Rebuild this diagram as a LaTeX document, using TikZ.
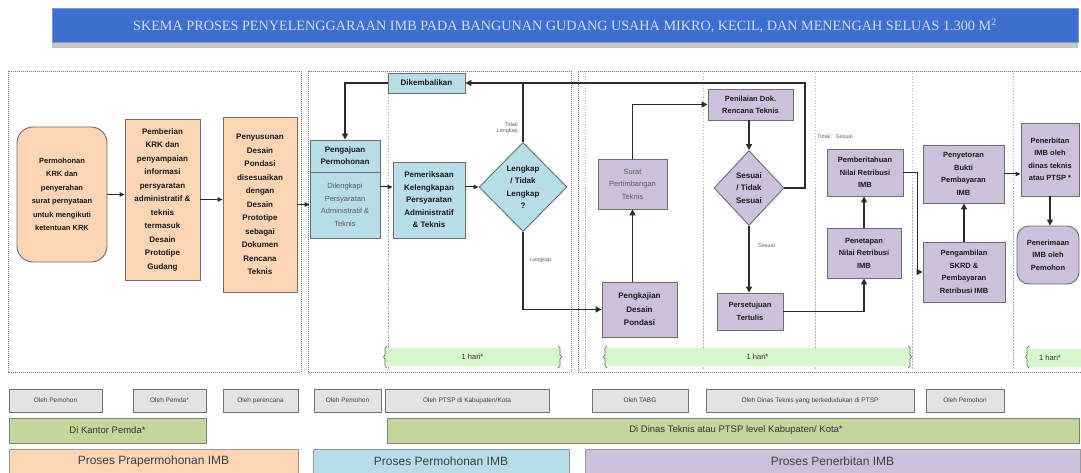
\documentclass[tikz,border=0pt]{standalone}
\usepackage{fontspec}
\setmainfont{Liberation Sans}
\newfontfamily\titlefont{Liberation Serif}
\usetikzlibrary{shapes.geometric,arrows.meta,calc}
\definecolor{cOr}{HTML}{FCD5B4}
\definecolor{cBl}{HTML}{B7DDE8}
\definecolor{cPu}{HTML}{CCC0DA}
\definecolor{cOl}{HTML}{C3D69B}
\definecolor{cMint}{HTML}{D6F7CC}
\definecolor{cGr}{HTML}{E3E3E3}
\definecolor{cTitle}{HTML}{3D6FD0}
\definecolor{cTitleTxt}{HTML}{D0DDF3}
\definecolor{cEdge}{HTML}{6E6E6E}
\definecolor{cLine}{HTML}{2B2B2B}
\begin{document}
\begin{tikzpicture}[x=1pt,y=-1pt,
  box/.style={draw=cEdge,line width=0.9pt,align=center,inner sep=1pt,text=black!90,
    font=\bfseries\fontsize{8}{13.5}\selectfont},
  lbox/.style={box,font=\fontsize{8}{13.5}\selectfont,text=black!65},
  obox/.style={box,fill=cOr},
  bbox/.style={box,fill=cBl},
  pbox/.style={box,fill=cPu},
  dia/.style={box,diamond,aspect=1,inner sep=0pt,font=\bfseries\fontsize{8}{12.5}\selectfont},
  arr/.style={draw=cLine,line width=1.6pt,-{Triangle[length=6pt,width=6pt]}},
  thinarr/.style={draw=cLine,line width=1pt,-{Triangle[length=5pt,width=4.5pt]}},
  ln/.style={draw=cLine,line width=1.6pt},
  panel/.style={draw=black!55,line width=0.9pt,dash pattern=on 1pt off 1pt},
  lane/.style={draw=black!30,line width=0.7pt,dash pattern=on 1.5pt off 1.5pt},
  tiny/.style={font=\fontsize{5.5}{6.5}\selectfont,text=black!60,align=right,inner sep=0pt},
  olehbox/.style={draw=black!55,fill=cGr,line width=0.9pt,inner sep=0pt,minimum height=23pt,
    font=\fontsize{6.5}{7}\selectfont,text=black!75},
  greenrow/.style={draw=black!50,fill=cOl,line width=0.8pt,inner sep=0pt,minimum height=25pt,
    font=\fontsize{9.5}{10}\selectfont,text=black!80},
  procrow/.style={draw=black!40,line width=0.8pt,inner sep=0pt,minimum height=24pt,
    font=\fontsize{12}{13}\selectfont,text=black!75},
  hari/.style={fill=cMint,draw=none,inner sep=0pt,minimum height=18pt,
    font=\fontsize{7.5}{8}\selectfont,text=black!80}
]
\useasboundingbox (0,0) rectangle (1081,473);
\fill[white] (0,0) rectangle (1081,473);

% title bar
\fill[black!22] (52,43) rectangle (1078,48);
\node[fill=cTitle,draw=cTitle!70!white,line width=1pt,minimum width=1026pt,minimum height=34pt,inner sep=0pt,
  font=\titlefont\fontsize{14.2}{15}\selectfont,text=cTitleTxt] (title) at (565,26)
  {SKEMA PROSES PENYELENGGARAAN IMB PADA BANGUNAN GUDANG USAHA MIKRO, KECIL, DAN MENENGAH SELUAS 1.300 M\textsuperscript{2}};

% panels
\draw[panel] (8,71) rectangle (301,372);
\draw[panel] (308,71) rectangle (571,372);
\draw[panel] (1081,71) -- (578,71) -- (578,372) -- (1081,372);
\foreach \xx in {388,585,703,815,912,1013} \draw[lane] (\xx,73) -- (\xx,370);

% 1 hari bars
\node[hari,minimum width=175pt] (h1) at (472.5,357) {1 hari*};
\node[hari,minimum width=305pt] (h2) at (757.5,357) {1 hari*};
\node[hari,minimum width=54pt] (h3) at (1054,358) {\hspace*{-8pt}1 hari*};
\foreach \xx/\s in {385/1,560/-1,605/1,910/-1,1027/1}
  \draw[black!60,line width=0.7pt] (\xx+2*\s,346) -- (\xx,348) -- (\xx,355) -- (\xx-1.5*\s,357) -- (\xx,359) -- (\xx,366) -- (\xx+2*\s,368);

% panel 1 nodes
\node[obox,rounded corners=16pt,minimum width=90pt,minimum height=135pt,font=\bfseries\fontsize{7.5}{13.5}\selectfont] (n1) at (62,194.5)
  {Permohonan\\KRK dan\\penyerahan\\surat pernyataan\\untuk mengikuti\\ketentuan KRK};
\node[obox,minimum width=75pt,minimum height=161pt] (n2) at (162.5,199.5)
  {Pemberian\\KRK dan\\penyampaian\\informasi\\persyaratan\\administratif \&\\teknis\\termasuk\\Desain\\Prototipe\\Gudang};
\node[obox,minimum width=74pt,minimum height=175pt] (n3) at (260,204.5)
  {Penyusunan\\Desain\\Pondasi\\disesuaikan\\dengan\\Desain\\Prototipe\\sebagai\\Dokumen\\Rencana\\Teknis};

% panel 2 nodes
\node[bbox,minimum width=77pt,minimum height=20pt] (dik) at (426.5,83) {Dikembalikan};
\node[bbox,minimum width=70pt,minimum height=32pt,font=\bfseries\fontsize{8}{12}\selectfont] (ph) at (345,156) {Pengajuan\\Permohonan};
\node[bbox,lbox,fill=cBl,minimum width=70pt,minimum height=66pt,font=\fontsize{7.5}{12.5}\selectfont] (pl) at (345,205)
  {Dilengkapi\\Persyaratan\\Administratif \&\\Teknis};
\node[bbox,minimum width=72pt,minimum height=76pt,font=\bfseries\fontsize{8}{12.5}\selectfont] (pem) at (429,200)
  {Pemeriksaan\\Kelengkapan\\Persyaratan\\Administratif\\\& Teknis};
\node[dia,fill=cBl,minimum width=88pt,minimum height=89pt] (d1) at (523,187) {Lengkap\\/ Tidak\\Lengkap\\?};

% panel 3 nodes
\node[pbox,lbox,fill=cPu,minimum width=69pt,minimum height=50pt,font=\fontsize{7.5}{12.5}\selectfont] (sp) at (632.5,184)
  {Surat\\Pertimbangan\\Teknis};
\node[pbox,minimum width=75pt,minimum height=55pt] (pk) at (639.5,309.5) {Pengkajian\\Desain\\Pondasi};
\node[pbox,minimum width=85pt,minimum height=31pt,font=\bfseries\fontsize{7.5}{12}\selectfont] (pen) at (750.5,104.5)
  {Penilaian Dok.\\Rencana Teknis};
\node[dia,fill=cPu,minimum width=70pt,minimum height=75pt] (s2) at (749,188) {Sesuai\\/ Tidak\\Sesuai};
\node[pbox,minimum width=66pt,minimum height=37pt,font=\bfseries\fontsize{7.5}{12.5}\selectfont] (pt) at (750,311.5)
  {Persetujuan\\Tertulis};
\node[pbox,minimum width=76pt,minimum height=47pt,font=\bfseries\fontsize{7.5}{12.5}\selectfont] (pbr) at (865,172.5)
  {Pemberitahuan\\Nilai Retribusi\\IMB};
\node[pbox,minimum width=74pt,minimum height=50pt,font=\bfseries\fontsize{7.5}{12.5}\selectfont] (pnt) at (864,253)
  {Penetapan\\Nilai Retribusi\\IMB};
\node[pbox,minimum width=81pt,minimum height=58pt,font=\bfseries\fontsize{7.5}{12.5}\selectfont] (psy) at (963.5,174)
  {Penyetoran\\Bukti\\Pembayaran\\IMB};
\node[pbox,minimum width=82pt,minimum height=60pt,font=\bfseries\fontsize{7.5}{12.5}\selectfont] (pga) at (964,272)
  {Pengambilan\\SKRD \&\\Pembayaran\\Retribusi IMB};
\node[pbox,minimum width=58pt,minimum height=73pt,font=\bfseries\fontsize{7.5}{12.5}\selectfont] (pnb) at (1050,159.5)
  {Penerbitan\\IMB oleh\\dinas teknis\\atau PTSP *};
\node[pbox,rounded corners=12pt,minimum width=62pt,minimum height=58pt,font=\bfseries\fontsize{7.5}{12.5}\selectfont] (pnr) at (1048,255)
  {Penerimaan\\IMB oleh\\Pemohon};

% connector labels
\node[tiny,anchor=east] (lblTL) at (518,128) {Tidak\\Lengkap};
\node[tiny,anchor=west] (lblL) at (530,260) {Lengkap};
\node[tiny,anchor=west] (lblS) at (758,246) {Sesuai};
\node[tiny,anchor=west] (lblTS) at (817,137) {Tidak\quad Sesuai};

% connectors panel 1
\draw[thinarr] (n1.east) -- (n1.east -| n2.west);
\draw[thinarr] (n2.east) -- (n2.east -| n3.west);
\draw[thinarr] (n3.east) -- (n3.east -| pl.west);

% connectors panel 2
\coordinate (tr) at (805,83);
\draw[arr] (s2.east) -| (tr) -- (dik.east);
\draw[ln] (d1.north) -- (d1.north |- dik.east);
\draw[arr] (dik.west) -| (ph.north);
\draw[thinarr] (pl.east |- d1) -- (pem.west |- d1);
\draw[thinarr] (pem.east |- d1) -- (d1.west);
\draw[arr] (d1.south) |- (pk.west);

% connectors panel 3
\draw[arr] (pk.north -| sp.south) -- (sp.south);
\draw[arr] (sp.north) |- (pen.west);
\draw[arr] (pen.south -| s2.north) -- (s2.north);
\draw[arr] (s2.south) -- (pt.north -| s2.south);
\draw[arr] (pt.east) -| (pnt.south);
\draw[arr] (pnt.north) -- (pbr.south -| pnt.north);
\draw[arr] (pbr.east) -- ++(14,0) |- (pga.west);
\draw[arr] (pga.north) -- (psy.south -| pga.north);
\draw[thinarr] (psy.east) -- (psy.east -| pnb.west);
\draw[arr] (pnb.south) -- (pnb.south |- pnr.north);

% bottom rows
\node[olehbox,minimum width=93pt] (o1) at (55.5,400.5) {Oleh Pemohon};
\node[olehbox,minimum width=73pt] (o2) at (169.5,400.5) {Oleh Pemda*};
\node[olehbox,minimum width=75pt] (o3) at (260.5,400.5) {Oleh perencana};
\node[olehbox,minimum width=67pt] (o4) at (347.5,400.5) {Oleh Pemohon};
\node[olehbox,minimum width=164pt] (o5) at (467,400.5) {Oleh PTSP di Kabupaten/Kota};
\node[olehbox,minimum width=96pt] (o6) at (640,400.5) {Oleh TABG};
\node[olehbox,minimum width=208pt] (o7) at (810,400.5) {Oleh Dinas Teknis yang berkedudukan di PTSP};
\node[olehbox,minimum width=78pt] (o8) at (965,400.5) {Oleh Pemohon};

\node[greenrow,minimum width=197pt] (g1) at (107.5,430.5) {Di Kantor Pemda*};
\node[greenrow,minimum width=692pt] (g2) at (733.5,430.5) {\hspace*{5pt}Di Dinas Teknis atau PTSP level Kabupaten/ Kota*};

\node[procrow,fill=cOr,minimum width=289pt] (p1) at (153.5,461) {Proses Prapermohonan IMB};
\node[procrow,fill=cBl,minimum width=256pt] (p2) at (441,461) {Proses Permohonan IMB};
\node[procrow,fill=cPu,minimum width=495pt] (p3) at (832.5,461) {Proses Penerbitan IMB};
\end{tikzpicture}
\end{document}
